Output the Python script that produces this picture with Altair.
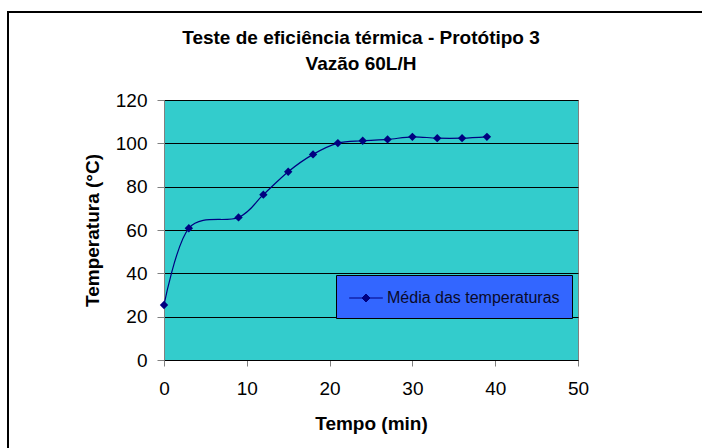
import altair as alt
import pandas as pd

tempo = [0, 3, 9, 12, 15, 18, 21, 24, 27, 30, 33, 36, 39]
temperatura = [25.4, 60.8, 65.8, 76.3, 86.9, 94.9, 100.1, 101.2, 101.8, 103.0, 102.4, 102.4, 103.0]
serie = "Média das temperaturas"
x_ticks = [0, 10, 20, 30, 40, 50]
y_ticks = [0, 20, 40, 60, 80, 100, 120]

df = pd.DataFrame({"Tempo": tempo, "Temperatura": temperatura, "Serie": [serie] * len(tempo)})

FONT = "Liberation Sans"

x = alt.X("Tempo:Q",
          scale=alt.Scale(domain=[0, 50], nice=False, zero=False),
          axis=alt.Axis(values=x_ticks, title="Tempo (min)", grid=False, labelFlush=False,
                        domainColor="black", tickColor="#808080", tickSize=6,
                        labelFontSize=19, labelPadding=13, labelFont=FONT, labelColor="black",
                        titleFontSize=19, titleFont=FONT, titleFontWeight="bold",
                        titleColor="black", titlePadding=16))
y = alt.Y("Temperatura:Q",
          scale=alt.Scale(domain=[0, 120], nice=False),
          axis=alt.Axis(values=y_ticks, title="Temperatura (°C)", grid=True,
                        gridColor="black", gridOpacity=1, gridWidth=1,
                        domainColor="#808080", tickColor="#808080", tickSize=7,
                        labelFontSize=19, labelPadding=10, labelFont=FONT, labelColor="black",
                        titleFontSize=19, titleFont=FONT, titleFontWeight="bold",
                        titleColor="black", titlePadding=13))

color = alt.Color("Serie:N",
                  scale=alt.Scale(domain=[serie], range=["#000080"]),
                  legend=alt.Legend(
                      title=None, orient="none", legendX=172, legendY=175,
                      fillColor="#3366FF", strokeColor="black", padding=12,
                      labelFontSize=16, labelFont=FONT, labelColor="#0a0a2a",
                      labelLimit=400,
                      symbolType="M-1.6,0L1.6,0M0,-0.38L0.38,0L0,0.38L-0.38,0Z",
                      symbolSize=441, symbolStrokeWidth=1,
                      symbolFillColor="#000080", symbolStrokeColor="#000080",
                      symbolOffset=7, labelOffset=10))

line = alt.Chart(df).mark_line(interpolate="cardinal", strokeWidth=1.2).encode(
    x=x, y=y, color=color)
points = alt.Chart(df).mark_point(shape="diamond", filled=True, size=70, opacity=1).encode(
    x="Tempo:Q", y="Temperatura:Q",
    color=alt.Color("Serie:N", scale=alt.Scale(domain=[serie], range=["#000080"]), legend=None))

frame = alt.Chart(df).mark_rect(fillOpacity=0, stroke="black", strokeWidth=1.5).encode(
    x=alt.value(-156), x2=alt.value(600), y=alt.value(-88), y2=alt.value(400))

chart = alt.layer(frame, line, points).properties(
    width=414, height=260,
    padding={"left": 164, "top": 100, "right": 124, "bottom": 88},
    autosize=alt.AutoSizeParams(type="none"),
    background="white",
    title=alt.TitleParams(
        ["Teste de eficiência térmica - Protótipo 3", "Vazão 60L/H"],
        fontSize=19, font=FONT, fontWeight="bold", lineHeight=26,
        anchor="middle", dx=-10, offset=-63, color="black"),
).configure_view(fill="#33CCCC", stroke="#808080", strokeWidth=1)

chart.save("out.html", embed_options={"renderer": "svg", "actions": False})
